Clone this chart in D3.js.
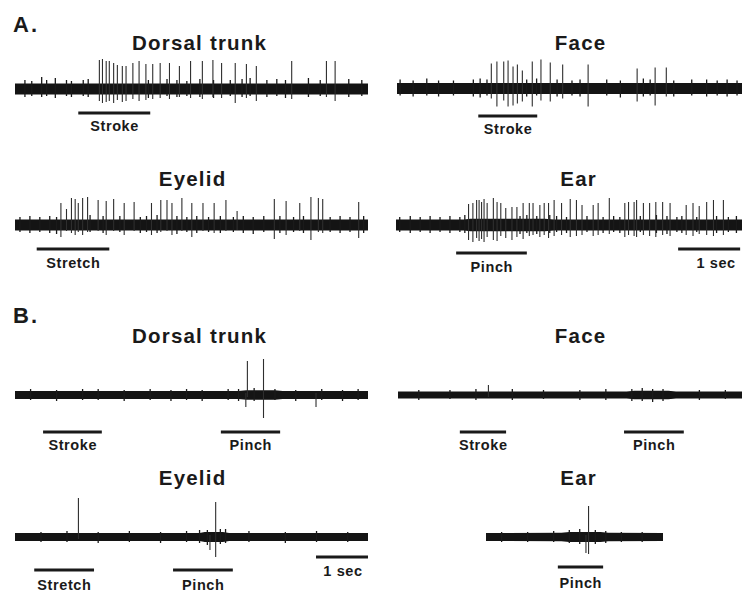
<!DOCTYPE html>
<html><head><meta charset="utf-8">
<script src="https://cdn.jsdelivr.net/npm/d3@7"></script>
<style>
html,body{margin:0;padding:0;background:#fff;}
svg{display:block;}
text{font-family:"Liberation Sans",Arial,sans-serif;font-weight:bold;fill:#1a1a1a;}
</style></head><body>
<svg id="chart" width="742" height="592"></svg>
<script>
// ---------------- DATA (times in s, amplitudes in µV, arbitrary units) ----------------
const sectionLetters = ["A.", "B."];
const panelTitles = ["Dorsal trunk", "Face", "Eyelid", "Ear", "Dorsal trunk", "Face", "Eyelid", "Ear"];
const recordDurations = [5.69, 5.56, 5.69, 5.58, 6.79, 6.62, 6.79, 3.40];
const scaleBarLabel = "1 sec";
const scaleBarSeconds = 1;

// A. Dorsal trunk
const aDorsalSpikeT    = [1.36,1.41,1.47,1.52,1.59,1.65,1.73,1.79,1.90,2.00,2.11,2.22,2.34,2.49,2.65,2.83,3.02,3.19,3.33,3.55,3.73,3.89,4.46,5.02,5.16];
const aDorsalSpikeUp   = [29,30,28,28,26,24,23,23,26,28,25,25,26,26,23,28,28,29,26,26,25,23,28,28,28];
const aDorsalSpikeDown = [12,14,13,12,14,11,13,12,10,12,11,10,9,10,8,9,10,8,9,14,9,12,10,8,12];
const aDorsalMinorT    = [0.16,0.27,0.43,0.51,0.65,0.83,0.91,1.10,1.18,2.15,2.45,2.61,2.77,2.98,3.20,3.47,3.66,3.79,4.06,4.22,4.36,4.73,4.92,5.38,5.59];
const aDorsalMinorUp   = [9,8,12,9,11,9,8,9,10,9,10,9,8,10,9,9,10,11,9,10,9,11,9,10,9];
const aDorsalMinorDown = [8,7,8,7,9,7,8,7,8,9,7,8,7,8,9,7,8,7,8,7,9,8,7,8,7];
const aDorsalNoise     = [[0,5.5],[5.69,5.5]];
const aDorsalStim      = [["Stroke",1.02,2.18]];

// A. Face
const aFaceSpikeT    = [1.52,1.61,1.72,1.79,1.87,1.94,2.02,2.18,2.32,2.47,2.67,3.08,3.87,4.16,4.34];
const aFaceSpikeUp   = [25,27,27,28,22,24,18,27,29,26,24,24,20,21,21];
const aFaceSpikeDown = [10,18,12,18,17,15,13,18,12,13,10,18,13,17,8];
const aFaceMinorT    = [0.05,0.26,0.48,0.67,0.91,1.23,1.34,1.45,2.09,2.25,2.58,2.82,2.95,3.38,3.60,3.97,4.08,4.46,4.75,4.99,5.16,5.32,5.48];
const aFaceMinorUp   = [9,8,10,8,8,9,10,9,9,10,9,8,9,9,8,10,9,8,9,9,8,9,8];
const aFaceMinorDown = [7,8,7,8,7,8,9,7,8,7,8,7,8,7,9,8,7,8,7,8,7,8,7];
const aFaceNoise     = [[0,5.5],[5.56,5.5]];
const aFaceStim      = [["Stroke",1.31,2.26]];

// A. Eyelid
const aEyelidSpikeT    = [0.74,0.83,0.91,0.97,1.02,1.09,1.17,1.34,1.47,1.59,1.76,1.92,2.20,2.35,2.45,2.53,2.69,2.85,3.03,3.21,3.40,3.58,4.18,4.37,4.59,4.77,4.89,4.96,5.54];
const aEyelidSpikeUp   = [22,16,27,26,22,27,28,25,24,26,22,23,22,25,25,22,27,22,22,22,25,14,26,24,22,28,27,26,23];
const aEyelidSpikeDown = [12,6,8,10,7,10,7,6,10,6,10,6,10,7,6,10,6,12,6,8,6,5,14,10,6,15,7,8,13];
const aEyelidMinorT    = [0.08,0.24,0.40,0.56,0.67,1.21,1.42,1.69,2.02,2.12,2.29,2.61,2.77,2.93,3.12,3.31,3.52,3.68,3.84,4.01,4.27,4.49,4.65,5.08,5.24,5.40,5.62];
const aEyelidMinorUp   = [8,9,8,9,8,10,9,9,8,9,10,9,8,9,8,9,8,9,8,9,9,8,9,8,9,8,9];
const aEyelidMinorDown = [7,8,7,8,9,7,8,7,8,7,8,9,7,8,7,8,7,8,9,7,8,7,8,7,8,7,8];
const aEyelidNoise     = [[0,5.5],[5.69,5.5]];
const aEyelidStim      = [["Stretch",0.35,1.52]];

// A. Ear
const aEarSpikeT    = [1.17,1.24,1.30,1.34,1.38,1.42,1.47,1.57,1.63,1.69,1.77,1.87,1.95,2.05,2.15,2.21,2.32,2.39,2.46,2.55,2.67,2.81,2.91,3.00,3.18,3.26,3.44,3.69,3.75,3.84,3.88,3.99,4.09,4.19,4.30,4.42,4.68,4.79,4.89,5.01,5.12,5.28];
const aEarSpikeUp   = [21,22,25,25,23,26,22,27,23,22,17,18,18,22,22,22,20,22,22,25,22,26,25,20,20,22,27,22,23,23,25,22,22,23,23,22,20,22,19,23,25,25];
const aEarSpikeDown = [15,17,13,16,14,17,12,15,16,11,13,15,12,14,11,10,12,10,13,11,10,12,11,10,11,10,9,12,10,11,12,10,11,12,10,11,10,11,9,10,11,10];
const aEarMinorT    = [0.06,0.23,0.39,0.55,0.71,0.87,1.03,1.11,2.00,2.11,2.27,2.48,2.59,2.75,3.08,3.34,3.51,3.61,3.94,4.20,4.37,4.53,4.61,4.85,5.17,5.36,5.49];
const aEarMinorUp   = [8,9,8,9,8,9,8,10,9,10,9,10,9,8,9,8,9,8,9,10,9,8,9,8,9,8,9];
const aEarMinorDown = [7,8,7,8,7,8,7,8,9,8,9,8,7,8,7,8,7,8,7,8,9,7,8,7,8,7,8];
const aEarNoise     = [[0,5.5],[1.1,5.5],[1.2,6.3],[2.4,6.3],[2.55,5.5],[5.58,5.5]];
const aEarStim      = [["Pinch",0.97,2.11]];
const aEarScaleStart = 4.55;

// B. Dorsal trunk
const bDorsalSpikeT    = [4.44,4.47,4.78,5.79];
const bDorsalSpikeUp   = [0,34,36,0];
const bDorsalSpikeDown = [12,0,23,12];
const bDorsalMinorT    = [0.3,0.8,1.3,1.6,2.1,2.6,3.0,3.3,3.6,4.1,4.3,4.6,5.0,5.4,5.9,6.3,6.6];
const bDorsalMinorUp   = [6,5,6,6,5,6,5,6,5,6,6,7,6,5,6,5,6];
const bDorsalMinorDown = [5,6,5,5,6,5,6,5,6,5,6,6,5,6,5,6,5];
const bDorsalNoise     = [[0,4],[4.3,4],[4.45,4.7],[5.0,4.7],[5.15,4],[6.79,4]];
const bDorsalStim      = [["Stroke",0.54,1.67],["Pinch",3.96,5.10]];

// B. Face
const bFaceSpikeT    = [1.74];
const bFaceSpikeUp   = [10];
const bFaceSpikeDown = [0];
const bFaceMinorT    = [0.4,1.0,1.5,2.2,2.8,3.5,4.0,4.5,4.7,4.9,5.1,5.8,6.3];
const bFaceMinorUp   = [5,5,6,6,5,5,6,6,7,6,6,5,5];
const bFaceMinorDown = [5,4,5,5,4,5,5,6,6,7,6,5,4];
const bFaceNoise     = [[0,3.5],[4.4,3.5],[4.55,4.2],[5.2,4.2],[5.35,3.5],[6.62,3.5]];
const bFaceStim      = [["Stroke",1.19,2.08],["Pinch",4.35,5.50]];

// B. Eyelid
const bEyelidSpikeT    = [1.22,3.75,3.86];
const bEyelidSpikeUp   = [39,0,35];
const bEyelidSpikeDown = [0,13,20];
const bEyelidMinorT    = [0.5,1.0,1.6,2.2,2.8,3.3,3.55,3.7,3.95,4.05,4.5,5.2,5.8,6.4];
const bEyelidMinorUp   = [5,6,5,6,5,6,7,7,8,8,6,5,6,5];
const bEyelidMinorDown = [5,5,6,5,6,5,6,8,7,6,5,6,5,5];
const bEyelidNoise     = [[0,4],[3.55,4],[3.65,5],[4.0,5],[4.12,4],[6.79,4]];
const bEyelidStim      = [["Stretch",0.37,1.52],["Pinch",3.04,4.19]];
const bEyelidScaleStart = 5.79;

// B. Ear
const bEarSpikeT    = [1.92,1.97];
const bEarSpikeUp   = [0,31];
const bEarSpikeDown = [16,17];
const bEarMinorT    = [0.3,0.8,1.3,1.6,1.8,2.1,2.3,2.6,3.0];
const bEarMinorUp   = [5,5,6,7,8,7,6,5,5];
const bEarMinorDown = [5,5,5,6,7,7,6,5,5];
const bEarNoise     = [[0,4],[1.45,4.2],[1.6,4.9],[2.2,4.9],[2.35,4.2],[3.40,4]];
const bEarStim      = [["Pinch",1.38,2.25]];

// ---------------- LAYOUT (positions only) ----------------
const layout = [
  {x0:15,  x1:368, cy:89,  tx:199, ty:50,  barY:113, labY:131},
  {x0:397, x1:742, cy:88.5,tx:580, ty:50,  barY:116, labY:134},
  {x0:15,  x1:368, cy:225, tx:192, ty:186, barY:249, labY:268},
  {x0:396, x1:742, cy:225, tx:578, ty:186, barY:253, labY:272, sbY:249, sbLabY:268, sbDx:7},
  {x0:15,  x1:368, cy:395, tx:199, ty:343, barY:432, labY:450},
  {x0:398, x1:742, cy:395, tx:580, ty:343, barY:432, labY:450},
  {x0:15,  x1:368, cy:537, tx:192, ty:485, barY:570, labY:590, sbY:557, sbLabY:576, sbDx:1},
  {x0:486, x1:663, cy:537, tx:578, ty:485, barY:567, labY:588}
];
const letterPos = [{x:13, y:32}, {x:13, y:323}];

const panels = [
  {t:aDorsalSpikeT, up:aDorsalSpikeUp, dn:aDorsalSpikeDown, mt:aDorsalMinorT, mu:aDorsalMinorUp, md:aDorsalMinorDown, noise:aDorsalNoise, stim:aDorsalStim},
  {t:aFaceSpikeT, up:aFaceSpikeUp, dn:aFaceSpikeDown, mt:aFaceMinorT, mu:aFaceMinorUp, md:aFaceMinorDown, noise:aFaceNoise, stim:aFaceStim},
  {t:aEyelidSpikeT, up:aEyelidSpikeUp, dn:aEyelidSpikeDown, mt:aEyelidMinorT, mu:aEyelidMinorUp, md:aEyelidMinorDown, noise:aEyelidNoise, stim:aEyelidStim},
  {t:aEarSpikeT, up:aEarSpikeUp, dn:aEarSpikeDown, mt:aEarMinorT, mu:aEarMinorUp, md:aEarMinorDown, noise:aEarNoise, stim:aEarStim, sb:aEarScaleStart},
  {t:bDorsalSpikeT, up:bDorsalSpikeUp, dn:bDorsalSpikeDown, mt:bDorsalMinorT, mu:bDorsalMinorUp, md:bDorsalMinorDown, noise:bDorsalNoise, stim:bDorsalStim},
  {t:bFaceSpikeT, up:bFaceSpikeUp, dn:bFaceSpikeDown, mt:bFaceMinorT, mu:bFaceMinorUp, md:bFaceMinorDown, noise:bFaceNoise, stim:bFaceStim},
  {t:bEyelidSpikeT, up:bEyelidSpikeUp, dn:bEyelidSpikeDown, mt:bEyelidMinorT, mu:bEyelidMinorUp, md:bEyelidMinorDown, noise:bEyelidNoise, stim:bEyelidStim, sb:bEyelidScaleStart},
  {t:bEarSpikeT, up:bEarSpikeUp, dn:bEarSpikeDown, mt:bEarMinorT, mu:bEarMinorUp, md:bEarMinorDown, noise:bEarNoise, stim:bEarStim}
];

// ---------------- DRAW ----------------
const svg = d3.select("#chart");
svg.append("rect").attr("width",742).attr("height",592).attr("fill","#fff");

svg.selectAll("text.letter").data(sectionLetters).join("text")
  .attr("class","letter")
  .attr("x",(d,i)=>letterPos[i].x).attr("y",(d,i)=>letterPos[i].y)
  .style("font-size","22px").style("letter-spacing","2px").text(d=>d);

panels.forEach((p,i)=>{
  const L = layout[i];
  const g = svg.append("g");
  const xs = d3.scaleLinear().domain([0, recordDurations[i]]).range([L.x0, L.x1]);
  const ys = d3.scaleLinear().domain([-50,50]).range([L.cy+50, L.cy-50]);

  // title
  g.append("text").attr("x",L.tx + 0.6).attr("y",L.ty).attr("text-anchor","middle")
    .style("font-size","20.5px").style("letter-spacing","1.2px").text(panelTitles[i]);

  // noise band
  const area = d3.area().x(d=>xs(d[0])).y0(d=>ys(-d[1])).y1(d=>ys(d[1]));
  g.append("path").datum(p.noise).attr("d",area).attr("fill","#141414");

  // minor noise excursions
  g.selectAll("line.minor").data(p.mt).join("line").attr("class","minor")
    .attr("x1",d=>xs(d)).attr("x2",d=>xs(d))
    .attr("y1",(d,j)=>ys(-p.md[j])).attr("y2",(d,j)=>ys(p.mu[j]))
    .attr("stroke","#1a1a1a").attr("stroke-width",1.3);

  // spikes
  g.selectAll("line.spike").data(p.t).join("line").attr("class","spike")
    .attr("x1",d=>xs(d)).attr("x2",d=>xs(d))
    .attr("y1",(d,j)=>ys(Math.max(p.up[j],2))).attr("y2",(d,j)=>ys(-Math.max(p.dn[j],2)))
    .attr("stroke","#2e2e2e").attr("stroke-width",1.1);

  // stimulus bars
  p.stim.forEach(s=>{
    g.append("line").attr("x1",xs(s[1])).attr("x2",xs(s[2]))
      .attr("y1",L.barY).attr("y2",L.barY)
      .attr("stroke","#1a1a1a").attr("stroke-width",3.2);
    g.append("text").attr("x",(xs(s[1])+xs(s[2]))/2 + 0.3).attr("y",L.labY)
      .attr("text-anchor","middle").style("font-size","14.5px").style("letter-spacing","0.6px").text(s[0]);
  });

  // time scale bar
  if (p.sb !== undefined) {
    g.append("line").attr("x1",xs(p.sb)).attr("x2",xs(p.sb+scaleBarSeconds))
      .attr("y1",L.sbY).attr("y2",L.sbY)
      .attr("stroke","#1a1a1a").attr("stroke-width",3.2);
    g.append("text").attr("x",(xs(p.sb)+xs(p.sb+scaleBarSeconds))/2 + L.sbDx).attr("y",L.sbLabY)
      .attr("text-anchor","middle").style("font-size","14.5px").style("letter-spacing","0.6px").text(scaleBarLabel);
  }
});
</script>
</body></html>
